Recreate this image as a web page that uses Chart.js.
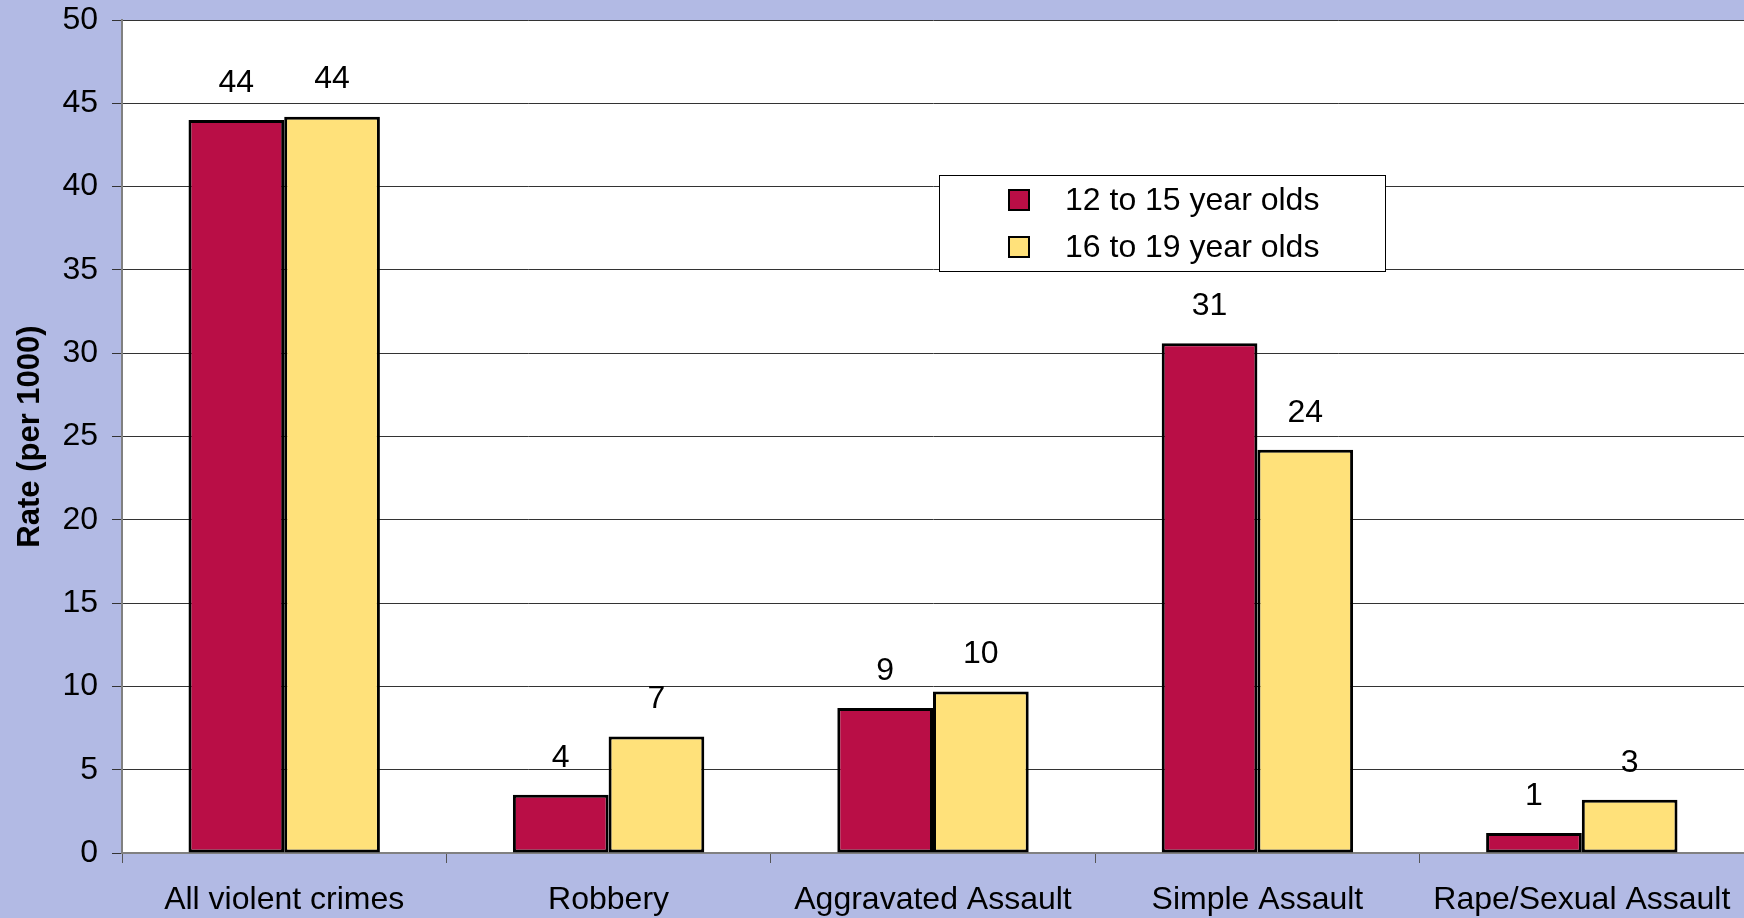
<!DOCTYPE html>
<html lang="en">
<head>
    <meta charset="UTF-8">
    <title>Violent crime rates by age group</title>
    <script src="https://cdn.jsdelivr.net/npm/chart.js"></script>
    <style>
        html, body { margin: 0; padding: 0; background: #b2bae4; }
        .wrap { position: relative; width: 1744px; height: 918px; }
    </style>
</head>
<body>
    <div class="wrap">
        <canvas id="crimeChart"></canvas>
    </div>

    <script>
        // data
        const categories = ['All violent crimes', 'Robbery', 'Aggravated Assault', 'Simple Assault', 'Rape/Sexual Assault'];
        const age12to15 = [44.0, 3.5, 8.7, 30.6, 1.2];
        const age16to19 = [44.2, 7.0, 9.7, 24.2, 3.2];
        const seriesNames = ['12 to 15 year olds', '16 to 19 year olds'];

        const FONT = '"Liberation Sans", Arial, sans-serif';

        // white plot background
        const plotBg = {
            id: 'plotBg',
            beforeDraw(chart) {
                const { ctx, chartArea: a } = chart;
                ctx.save();
                ctx.fillStyle = '#ffffff';
                ctx.fillRect(a.left, a.top, a.right - a.left, a.bottom - a.top);
                ctx.restore();
            }
        };

        // rounded value labels above bars
        const valueLabels = {
            id: 'valueLabels',
            afterDatasetsDraw(chart) {
                const ctx = chart.ctx;
                ctx.save();
                ctx.font = '32px ' + FONT;
                ctx.fillStyle = '#000';
                ctx.textAlign = 'center';
                ctx.textBaseline = 'middle';
                chart.data.datasets.forEach((ds, i) => {
                    chart.getDatasetMeta(i).data.forEach((bar, j) => {
                        ctx.fillText(Math.round(ds.data[j]), bar.x, bar.y - 37);
                    });
                });
                ctx.restore();
            }
        };

        // boxed legend inside the plot
        const boxLegend = {
            id: 'boxLegend',
            afterDraw(chart) {
                const { ctx, chartArea: a } = chart;
                const x = a.left + 817, y = a.top + 155, w = 446, h = 96;
                ctx.save();
                ctx.fillStyle = '#fff';
                ctx.fillRect(x, y, w, h);
                ctx.strokeStyle = '#000';
                ctx.lineWidth = 1;
                ctx.strokeRect(x + 0.5, y + 0.5, w, h);
                ctx.font = '32px ' + FONT;
                ctx.textBaseline = 'middle';
                chart.data.datasets.forEach((ds, i) => {
                    const cy = y + 25 + i * 47;
                    ctx.fillStyle = ds.backgroundColor;
                    ctx.fillRect(x + 70, cy - 10, 20, 20);
                    ctx.lineWidth = 2;
                    ctx.strokeRect(x + 70, cy - 10, 20, 20);
                    ctx.fillStyle = '#000';
                    ctx.fillText(ds.label, x + 126, cy + 1);
                });
                ctx.restore();
            }
        };

        const ctx = document.getElementById('crimeChart').getContext('2d');
        new Chart(ctx, {
            type: 'bar',
            data: {
                labels: categories,
                datasets: [{
                    label: seriesNames[0],
                    data: age12to15,
                    backgroundColor: '#b90e46',
                    borderColor: '#000',
                    borderWidth: 3,
                    borderSkipped: false
                }, {
                    label: seriesNames[1],
                    data: age16to19,
                    backgroundColor: '#ffe17a',
                    borderColor: '#000',
                    borderWidth: 3,
                    borderSkipped: false
                }]
            },
            options: {
                responsive: true,
                maintainAspectRatio: false,
                animation: false,
                categoryPercentage: 0.59,
                barPercentage: 1.0,
                layout: { padding: { top: 20, right: 0, left: 0, bottom: 0 } },
                scales: {
                    x: {
                        grid: {
                            offset: true,
                            drawOnChartArea: false,
                            drawTicks: true,
                            tickLength: 10,
                            color: '#555'
                        },
                        border: { display: true, color: '#808080', width: 2 },
                        ticks: {
                            color: '#000',
                            font: { family: FONT, size: 32 },
                            padding: 18,
                            maxRotation: 0,
                            autoSkip: false
                        },
                        afterFit(scale) {
                            scale.height = 65;
                            scale.paddingLeft = 0;
                            scale.paddingRight = 0;
                        }
                    },
                    y: {
                        min: 0,
                        max: 50,
                        ticks: {
                            stepSize: 5,
                            color: '#000',
                            font: { family: FONT, size: 32 },
                            padding: 14
                        },
                        grid: {
                            color: '#333',
                            lineWidth: 1,
                            tickLength: 10
                        },
                        border: { display: true, color: '#808080', width: 2 },
                        title: {
                            display: true,
                            text: 'Rate (per 1000)',
                            color: '#000',
                            font: { family: FONT, size: 31, weight: 'bold' },
                            padding: { top: 12, bottom: 0 }
                        },
                        afterFit(scale) {
                            scale.width = 122;
                            scale.paddingTop = 0;
                            scale.paddingBottom = 0;
                        }
                    }
                },
                plugins: {
                    legend: { display: false },
                    tooltip: { enabled: false }
                }
            },
            plugins: [plotBg, valueLabels, boxLegend]
        });
    </script>
</body>
</html>
